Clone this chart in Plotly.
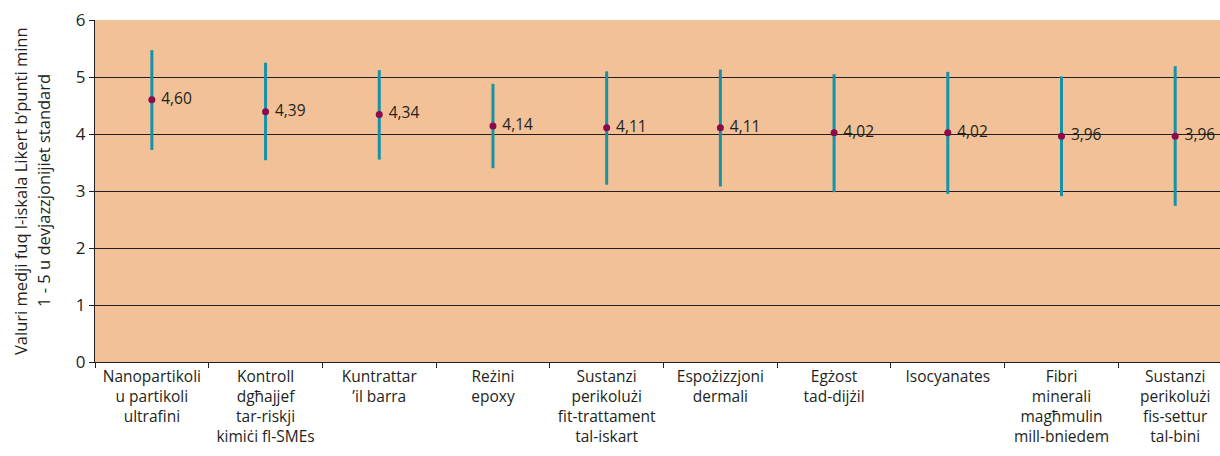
import plotly.graph_objects as go

categories = [
    "Nanopartikoli<br>u partikoli<br>ultrafini",
    "Kontroll<br>dgħajjef<br>tar-riskji<br>kimiċi fl-SMEs",
    "Kuntrattar<br>’il barra",
    "Reżini<br>epoxy",
    "Sustanzi<br>perikolużi<br>fit-trattament<br>tal-iskart",
    "Espożizzjoni<br>dermali",
    "Egżost<br>tad-dijżil",
    "Isocyanates",
    "Fibri<br>minerali<br>magħmulin<br>mill-bniedem",
    "Sustanzi<br>perikolużi<br>fis-settur<br>tal-bini",
]
means = [4.60, 4.39, 4.34, 4.14, 4.11, 4.11, 4.02, 4.02, 3.96, 3.96]
err_plus = [0.87, 0.86, 0.78, 0.74, 0.99, 1.02, 1.03, 1.07, 1.05, 1.23]
err_minus = [0.88, 0.85, 0.79, 0.74, 1.00, 1.03, 1.04, 1.07, 1.05, 1.22]
y_ticks = [0, 1, 2, 3, 4, 5, 6]
y_title_lines = ["Valuri medji fuq l-iskala Likert b’punti minn",
                 "1 - 5 u devjazzjonijiet standard"]

labels = [" " + f"{v:.2f}".replace(".", ",") for v in means]

FONT = "Open Sans, Noto Sans, sans-serif"
TEXT = "#231F20"

fig = go.Figure()
fig.add_trace(go.Scatter(
    x=categories, y=means,
    mode="markers+text",
    text=labels,
    textposition="middle right",
    textfont=dict(family=FONT, size=15.5, color=TEXT),
    marker=dict(color="#8C0A4B", size=7),
    error_y=dict(type="data", symmetric=False, array=err_plus, arrayminus=err_minus,
                 width=0, thickness=3, color="#1592A8"),
    showlegend=False,
    cliponaxis=False,
))

fig.update_layout(
    width=1220, height=456,
    margin=dict(l=95, r=0, t=20, b=94),
    paper_bgcolor="white",
    plot_bgcolor="#F2C197",
    font=dict(family=FONT, size=15, color=TEXT),
    xaxis=dict(
        type="category",
        range=[-0.5, 9.394],
        showgrid=False,
        showline=True, linecolor=TEXT, linewidth=1,
        ticks="outside", tickson="boundaries", ticklen=5, tickcolor=TEXT,
        tickfont=dict(family=FONT, size=15.5, color=TEXT),
        zeroline=False,
        automargin=False,
    ),
    yaxis=dict(
        range=[0, 6],
        tickvals=y_ticks,
        showgrid=True, gridcolor=TEXT, gridwidth=1,
        showline=True, linecolor=TEXT, linewidth=1,
        ticks="outside", ticklen=5, tickcolor=TEXT,
        tickfont=dict(family=FONT, size=17, color=TEXT),
        zeroline=False,
        automargin=False,
    ),
)

for i, (line, xpx) in enumerate(zip(y_title_lines, [20, 43])):
    fig.add_annotation(
        text=line, textangle=-90,
        xref="paper", yref="paper",
        x=(xpx - 95) / 1125, y=0.5,
        xanchor="center", yanchor="middle",
        showarrow=False,
        font=dict(family=FONT, size=16.5, color=TEXT),
    )

fig.write_html("out.html", config={"displayModeBar": False},
               post_script="document.body.style.margin='0';")
